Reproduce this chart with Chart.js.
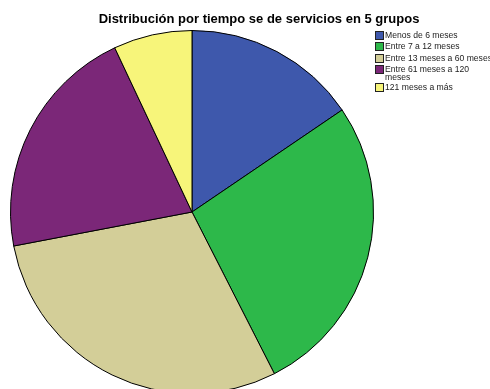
<!DOCTYPE html>
<html>
<head>
<meta charset="utf-8">
<script src="https://cdn.jsdelivr.net/npm/chart.js@4/dist/chart.umd.min.js"></script>
<style>
  html, body { margin: 0; padding: 0; background: #fff; overflow: hidden; }
  #wrap { position: relative; width: 490px; height: 389px; overflow: hidden; }
  #pie { position: absolute; left: 0; top: 0; }
  #title {
    position: absolute; left: 0; width: 518px; top: 11px; text-align: center;
    font: bold 13px "Liberation Sans", Arial, sans-serif; color: #000;
  }
  #legend {
    position: absolute; left: 375px; top: 31px; width: 118px;
    font: 8.6px "Liberation Sans", Arial, sans-serif; color: #222;
  }
  .row { display: flex; align-items: flex-start; line-height: 8px; margin-bottom: 2.3px; }
  .sw { flex: 0 0 auto; width: 7px; height: 7px; border: 1px solid #222; margin-right: 1px; }
  .lbl { width: 108px; }
</style>
</head>
<body>
<div id="wrap">
  <canvas id="pie" width="490" height="400"></canvas>
  <div id="title">Distribución por tiempo se de servicios en 5 grupos</div>
  <div id="legend"></div>
</div>
<script>
const categories = [
  "Menos de 6 meses",
  "Entre 7 a 12 meses",
  "Entre 13 meses a 60 meses",
  "Entre 61 meses a 120 meses",
  "121 meses a más"
]
const counts = [31, 54, 59, 42, 14]
const colors = ["#3e58ac", "#2db84a", "#d3ce98", "#7b2778", "#f7f57a"]

// legend in the top right corner
const legend = document.getElementById("legend")
categories.forEach((c, i) => {
  const row = document.createElement("div")
  row.className = "row"
  row.innerHTML = `<div class="sw" style="background:${colors[i]}"></div><div class="lbl">${c}</div>`
  legend.appendChild(row)
})

new Chart(document.getElementById("pie"), {
  type: "pie",
  data: {
    labels: categories,
    datasets: [{
      data: counts,
      backgroundColor: colors,
      borderColor: "#000",
      borderWidth: 1
    }]
  },
  options: {
    responsive: false,
    animation: false,
    layout: { padding: { left: 10, top: 30, right: 116, bottom: 6 } },
    plugins: {
      legend: { display: false },
      title: { display: false },
      tooltip: { enabled: false }
    }
  }
})
</script>
</body>
</html>
